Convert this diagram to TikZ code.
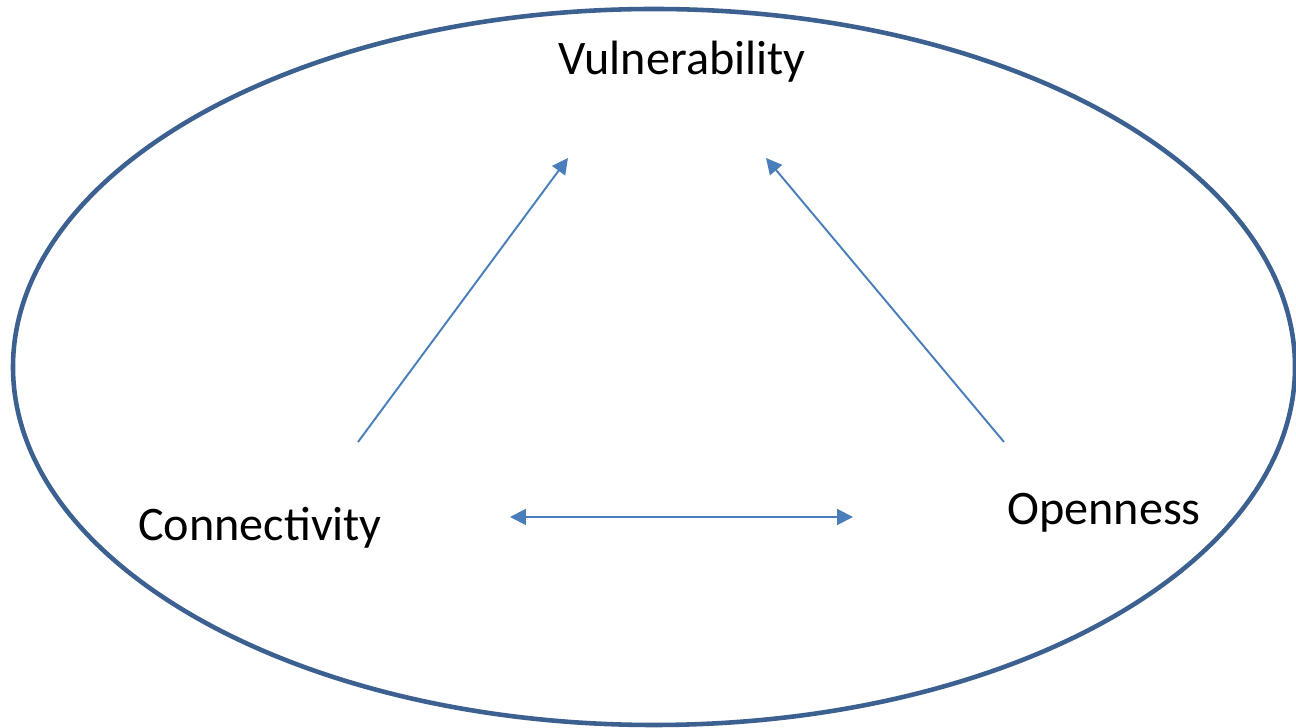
\documentclass[tikz,border=0pt]{standalone}
\usepackage{fontspec}
\setmainfont{Carlito}
\usetikzlibrary{arrows.meta,positioning}
\definecolor{ringblue}{HTML}{3C6191}
\definecolor{arrowblue}{HTML}{4A7EBB}
\tikzset{
  label text/.style={font=\fontsize{13.7}{16}\selectfont, inner sep=0pt},
  link/.style={arrowblue, line width=0.55pt, -{Triangle[width=4.5pt,length=4.5pt]}},
  biglink/.style={arrowblue, line width=0.55pt, {Triangle[width=4.5pt,length=4.5pt]}-{Triangle[width=4.5pt,length=4.5pt]}}
}
\begin{document}
\begin{tikzpicture}[x=0.01cm,y=-0.01cm]
\useasboundingbox (0,0) rectangle (1296,728);
\draw[ringblue, line width=1.3pt] (654,367) ellipse [x radius=641, y radius=358];
\node[label text] (vuln) at (682,62) {Vulnerability};
\node[label text] (conn) at (260,528) {Connectivity};
\node[label text] (open) at (1104,513) {Openness};
\coordinate (conn top) at (358,442);
\coordinate (vuln left) at (568,158);
\coordinate (open top) at (1004,442);
\coordinate (vuln right) at (766,158);
\coordinate (conn right) at (510,517);
\coordinate (open left) at (853,517);
\draw[link] (conn top) -- (vuln left);
\draw[link] (open top) -- (vuln right);
\draw[biglink] (conn right) -- (open left);
\end{tikzpicture}
\end{document}
